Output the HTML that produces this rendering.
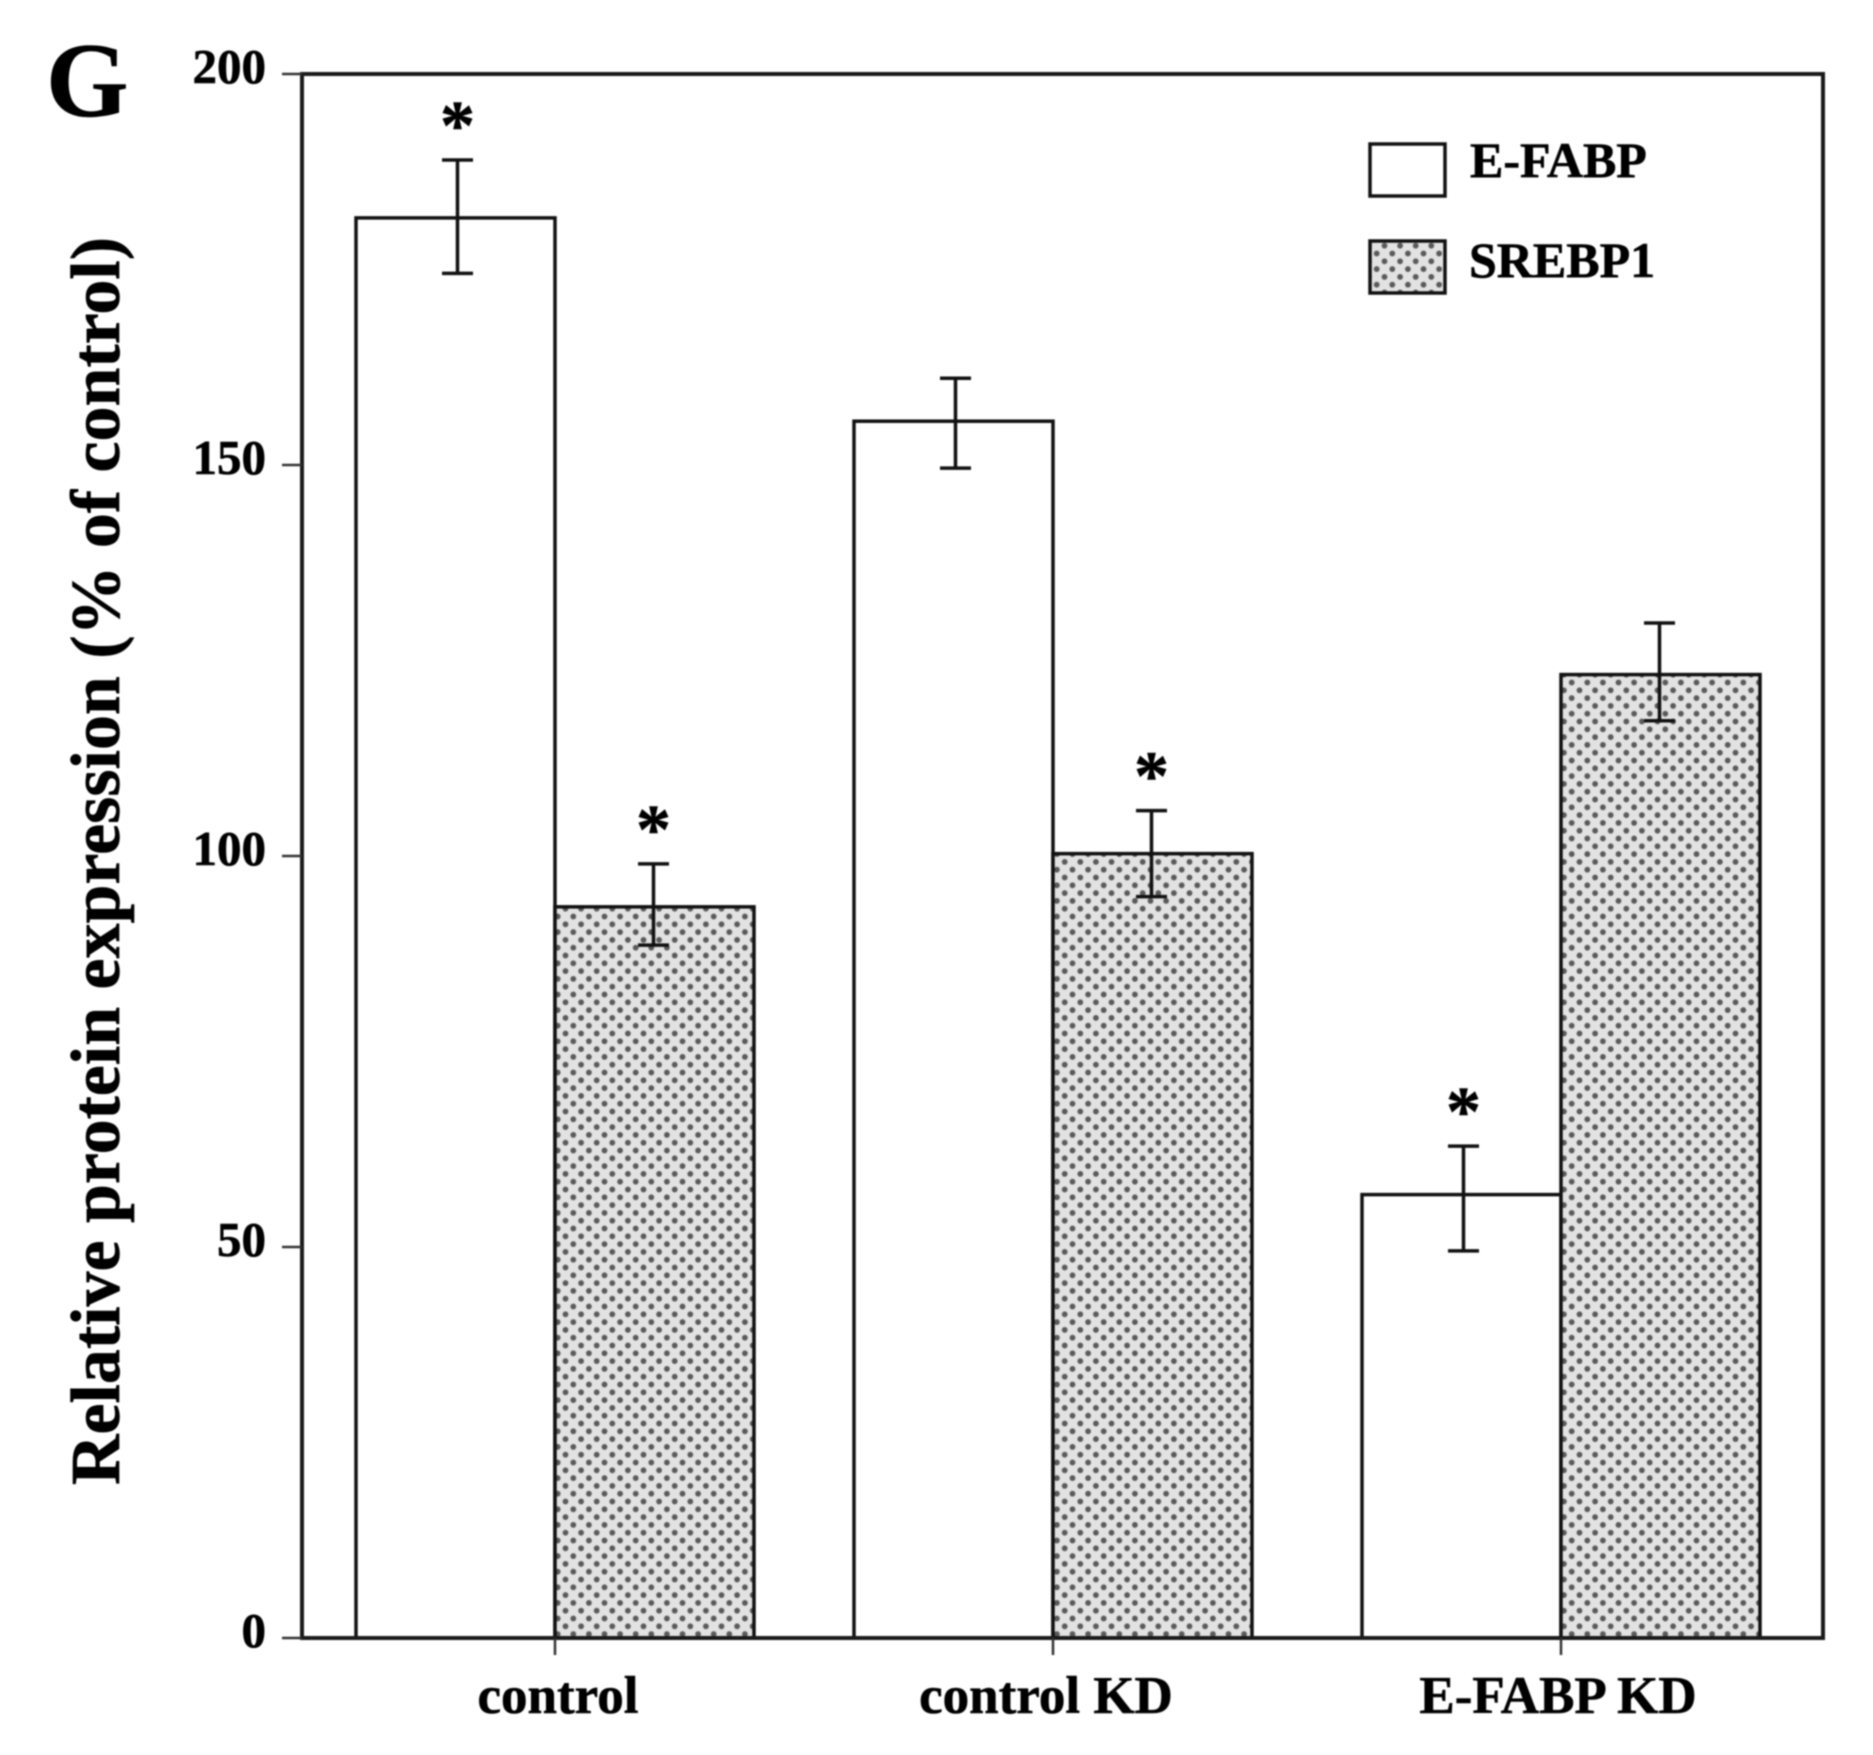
<!DOCTYPE html>
<html lang="en">
<head>
<meta charset="utf-8">
<title>Relative protein expression</title>
<style>
  html, body { margin: 0; padding: 0; background: #fff; }
  svg { display: block; filter: blur(0.7px); }
  text { font-family: "Liberation Serif", serif; font-weight: bold; fill: #000; stroke: #000; stroke-width: 0.6px; }
</style>
</head>
<body>
<svg id="chart" xmlns="http://www.w3.org/2000/svg" width="1873" height="1755" viewBox="0 0 1873 1755">
  <defs>
    <pattern id="dots" width="15.6" height="15.6" patternUnits="userSpaceOnUse">
      <rect width="15.6" height="15.6" fill="#e2e2e2"></rect>
      <circle cx="3.9" cy="3.9" r="2.9" fill="#5a5a5a"></circle>
      <circle cx="11.7" cy="11.7" r="2.9" fill="#5a5a5a"></circle>
    </pattern>
  </defs>
  <rect width="1873" height="1755" fill="#fff"></rect>
  <text x="46" y="116" font-size="106">G</text>
  <text transform="translate(119,1485) rotate(-90)" font-size="70" textLength="1248" lengthAdjust="spacingAndGlyphs">Relative protein expression (% of control)</text>
  <g id="marks"></g>
  <rect x="302" y="74" width="1521" height="1564" fill="none" stroke="#1a1a1a" stroke-width="4"></rect>
  <g id="axes"></g>
  <g>
    <g>
      <rect x="1370" y="144" width="75" height="52" fill="#fff" stroke="#111" stroke-width="3.5"></rect>
      <text x="1470" y="177" font-size="50">E-FABP</text>
    </g>
    <g>
      <rect x="1370" y="241" width="75" height="52" fill="url(#dots)" stroke="#111" stroke-width="3.5"></rect>
      <text x="1469" y="277" font-size="50">SREBP1</text>
    </g>
  </g>
</svg>
<script>
const categories = ['control', 'control KD', 'E-FABP KD'];
const yTickValues = [0, 50, 100, 150, 200];
const efabpValues = [181.6, 155.6, 56.7];
const efabpErrHigh = [189, 161.1, 62.9];
const efabpErrLow = [174.5, 149.6, 49.5];
const efabpStars = [1, 0, 1];
const srebp1Values = [93.5, 100.3, 123.2];
const srebp1ErrHigh = [99, 105.8, 129.8];
const srebp1ErrLow = [88.6, 94.8, 117.3];
const srebp1Stars = [1, 1, 0];

const NS = 'http://www.w3.org/2000/svg';
const PLOT_BOTTOM = 1638, PLOT_TOP = 74, Y_MAX = 200;
const FIRST_GROUP = 555, GROUP_STEP = 503, BAR_WIDTH = 199;
const y = v => PLOT_BOTTOM - (v / Y_MAX) * (PLOT_BOTTOM - PLOT_TOP);
const groupX = i => FIRST_GROUP + GROUP_STEP * i - (i === 1 ? 5 : 0);
const labelX = i => groupX(i) + (i === 0 ? 3 : i === 1 ? -7 : -3);

function make(parent, tag, attrs, content) {
  const el = document.createElementNS(NS, tag);
  for (const k in attrs) el.setAttribute(k, attrs[k]);
  if (content !== undefined) el.textContent = content;
  parent.appendChild(el);
  return el;
}

const marks = document.getElementById('marks');
const axes = document.getElementById('axes');

function drawSeries(name, values, hi, lo, stars, side, fill) {
  values.forEach((v, i) => {
    const x0 = side < 0 ? groupX(i) - BAR_WIDTH : groupX(i);
    const cx = x0 + BAR_WIDTH / 2 + (side < 0 ? 2 : -1);

    const bar = make(marks, 'rect', { x: x0, y: y(v), width: BAR_WIDTH, height: PLOT_BOTTOM - y(v), fill: fill, stroke: '#111', 'stroke-width': 3.5 });
    
    

    const stem = make(marks, 'line', { x1: cx, x2: cx, y1: y(hi[i]), y2: y(lo[i]), stroke: '#111', 'stroke-width': 3.5 });
    
    

    [hi[i], lo[i]].forEach(e => {
      const cap = make(marks, 'line', { x1: cx - 15.5, x2: cx + 15.5, y1: y(e), y2: y(e), stroke: '#111', 'stroke-width': 3.5 });
      
      
    });

    if (stars[i]) {
      const star = make(marks, 'text', { x: cx, y: y(hi[i]) - 11, 'font-size': 70, 'text-anchor': 'middle' }, '*');
      
      
    }
  });
}
drawSeries('e-fabp', efabpValues, efabpErrHigh, efabpErrLow, efabpStars, -1, '#fff');
drawSeries('srebp1', srebp1Values, srebp1ErrHigh, srebp1ErrLow, srebp1Stars, 1, 'url(#dots)');

yTickValues.forEach(v => {
  const t = make(axes, 'line', { x1: 282, x2: 302, y1: y(v), y2: y(v), stroke: '#333', 'stroke-width': 2.5 });
  
  
  const l = make(axes, 'text', { x: 266, y: y(v) + 9, 'font-size': 49, 'text-anchor': 'end' }, String(v));
  
  
});

categories.forEach((c, i) => {
  const t = make(axes, 'line', { x1: groupX(i), x2: groupX(i), y1: PLOT_BOTTOM, y2: PLOT_BOTTOM + 17, stroke: '#333', 'stroke-width': 2.5 });
  
  
  const l = make(axes, 'text', { x: labelX(i), y: 1713, 'font-size': 53, 'text-anchor': 'middle' }, c);
  
  
});
</script>
</body>
</html>
